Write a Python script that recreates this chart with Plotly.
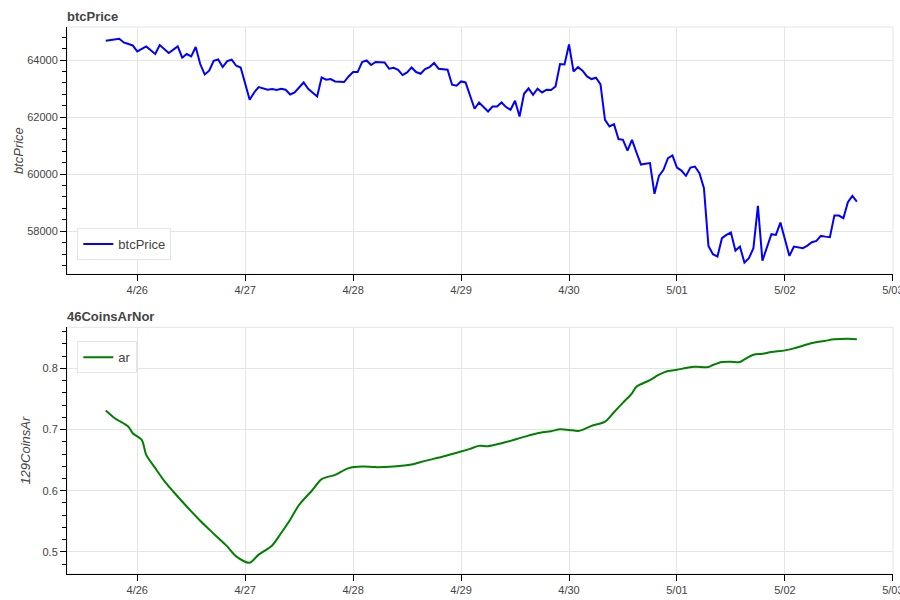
import pandas as pd
import plotly.graph_objects as go
from plotly.subplots import make_subplots

START = "2024-04-25 17:00"

btc_hours = [0, 1, 3, 4, 6, 7, 9, 11, 12, 14, 16, 17, 18, 19, 20, 21, 22, 23, 24, 25, 26, 27, 28, 29, 30,
             32, 33, 34, 35, 36, 37, 38, 39, 40, 41, 42, 44, 45, 47, 48, 49, 50, 51, 53, 54, 55, 56, 57, 58,
             59, 60, 62, 63, 64, 65, 66, 67, 68, 69, 70, 71, 72, 73, 74, 76, 77, 78, 79, 80, 81, 82, 83, 84,
             85, 86, 87, 88, 89, 90, 91, 92, 93, 94, 95, 96, 97, 98, 99, 100, 101, 102, 103, 104, 105, 106,
             107, 108, 109, 110, 111, 112, 113, 114, 115, 116, 117, 118, 119, 120, 121, 122, 123, 124, 125,
             126, 127, 128, 129, 130, 131, 132, 133, 134, 135, 136, 137, 138, 139, 140, 141, 142, 143, 144,
             145, 146, 147, 148, 149, 150, 151, 152, 153, 154, 155, 156, 157, 158, 159, 160, 161, 162, 163,
             164, 165, 166, 167]
btc_price = [64677, 64702, 64747, 64618, 64512, 64302, 64477, 64211, 64526, 64246, 64477, 64081, 64211,
             64126, 64456, 63860, 63495, 63625, 63975, 64021, 63754, 63965, 64011, 63800, 63740,
             62607, 62863, 63053, 63018, 62958, 62982, 62947, 62993, 62958, 62793, 62863, 63214, 62993,
             62723, 63389, 63309, 63333, 63249, 63228, 63425, 63579, 63579, 63930, 63986,
             63825, 63930, 63916, 63695, 63730, 63660, 63474, 63565, 63740, 63579, 63519, 63684, 63754,
             63895, 63695, 63660, 63133, 63098, 63249, 63214, 62723, 62291, 62512, 62351,
             62197, 62372, 62372, 62512, 62351, 62256, 62572, 62021, 62818, 63003, 62782, 62993, 62863,
             62958, 62947, 63074, 63860, 63846, 64547, 63600, 63754, 63625,
             63425, 63333, 63379, 63144, 61905, 61670, 61754, 61228, 61203, 60828, 61203, 60758, 60337,
             60361, 60386, 59309, 59940, 60151, 60561,
             60653, 60232, 60126, 59940, 60232, 60267, 60035, 59509, 57484, 57193, 57109, 57754, 57870,
             57951, 57319, 57460, 56898, 57053, 57404,
             58888, 56968, 57404, 57895, 57870, 58302, 57719, 57133, 57460, 57439, 57404, 57495, 57614,
             57660, 57835, 57810, 57789, 58547, 58547,
             58456, 59017, 59239, 59039]

ar_hours = [0, 2, 5, 6, 8, 9, 11, 13, 15, 18, 21, 24, 27, 29, 32, 34, 37, 39, 41, 43, 46, 48, 51, 54, 57,
            60, 64, 68, 71, 75, 79, 81, 83, 85, 88, 90, 92, 94, 96, 99, 101, 103, 105, 106, 108, 111, 113,
            115, 117, 118, 121, 123, 125, 127, 129, 131, 134, 135, 137, 139, 141, 142, 144, 146, 148, 151,
            153, 155, 157, 160, 162, 165, 167]
ar_values = [0.731, 0.7185, 0.7048, 0.694, 0.6831, 0.6586, 0.637, 0.6162, 0.5988, 0.5743, 0.551, 0.5298,
             0.5091, 0.4928, 0.4825, 0.4956, 0.5107, 0.531, 0.5527, 0.5771, 0.6016, 0.619, 0.626, 0.637,
             0.6396, 0.6386, 0.6396, 0.6428, 0.6488, 0.6559, 0.664, 0.6684, 0.6733, 0.6728, 0.6777, 0.6815,
             0.6859, 0.6901, 0.694, 0.6973, 0.7005, 0.6994, 0.6978, 0.6994, 0.7059, 0.7129, 0.7283, 0.7439,
             0.7592, 0.77, 0.7809, 0.7896, 0.7956, 0.7977, 0.8005, 0.8026, 0.8021, 0.8054, 0.8103, 0.8108,
             0.8103, 0.8147, 0.8222, 0.8238, 0.8266, 0.8293, 0.8326, 0.8368, 0.8413, 0.845, 0.8473, 0.8483,
             0.8473]

tick_days = ["2024-04-26", "2024-04-27", "2024-04-28", "2024-04-29", "2024-04-30",
             "2024-05-01", "2024-05-02", "2024-05-03"]
tick_text = ["4/26", "4/27", "4/28", "4/29", "4/30", "5/01", "5/02", "5/03"]

start = pd.Timestamp(START)
btc_x = [start + pd.Timedelta(hours=h) for h in btc_hours]
ar_x = [start + pd.Timedelta(hours=h) for h in ar_hours]

FONT = "Liberation Sans, Arial, sans-serif"
GRID = "#e5e5e5"
TXT = "#444444"

fig = make_subplots(rows=2, cols=1, shared_xaxes=False, vertical_spacing=0.097)

fig.add_trace(go.Scatter(x=btc_x, y=btc_price, mode="lines", name="btcPrice",
                         line=dict(color="#0000ff", width=2), legend="legend"), row=1, col=1)
fig.add_trace(go.Scatter(x=ar_x, y=ar_values, mode="lines", name="ar",
                         line=dict(color="#008000", width=2, shape="spline", smoothing=0.8),
                         legend="legend2"), row=2, col=1)

xrange = ["2024-04-25 08:23", "2024-05-03 00:02"]
common_x = dict(range=xrange, tickmode="array", tickvals=tick_days, ticktext=tick_text,
                showgrid=True, gridcolor=GRID, gridwidth=1, zeroline=False,
                showline=True, linecolor="black", linewidth=1, automargin=False,
                ticks="outside", ticklen=6, tickcolor="black", ticklabeloverflow="allow",
                tickfont=dict(family=FONT, size=11, color=TXT))
fig.update_xaxes(**common_x, row=1, col=1)
fig.update_xaxes(**common_x, row=2, col=1)

common_y = dict(showgrid=True, gridcolor=GRID, gridwidth=1, zeroline=False,
                showline=True, linecolor="black", linewidth=1, automargin=False,
                ticks="outside", ticklen=6, tickcolor="black",
                tickfont=dict(family=FONT, size=11, color=TXT))
fig.update_yaxes(**common_y, range=[56491, 65158], dtick=2000, tick0=0, tickformat="d",
                 minor=dict(ticks="outside", ticklen=4, tickcolor="black", dtick=400, showgrid=False),
                 title=dict(text="<i>btcPrice</i>", font=dict(family=FONT, size=13, color=TXT), standoff=0),
                 row=1, col=1)
fig.update_yaxes(**common_y, range=[0.464, 0.867], dtick=0.1, tick0=0, tickformat=".1f",
                 minor=dict(ticks="outside", ticklen=4, tickcolor="black", dtick=0.02, showgrid=False),
                 title=dict(text="<i>129CoinsAr</i>", font=dict(family=FONT, size=13, color=TXT), standoff=8),
                 row=2, col=1)

fig.update_layout(
    xaxis=dict(domain=[0.0, 1.0]),
    xaxis2=dict(domain=[0.0, 1.0]),
    yaxis=dict(domain=[0.548, 1.0]),
    yaxis2=dict(domain=[0.0, 0.451]),
)

# light outline around each plot frame
for xr, yr in [("x domain", "y domain"), ("x2 domain", "y2 domain")]:
    fig.add_shape(type="rect", xref=xr, yref=yr, x0=0, x1=1, y0=0, y1=1,
                  line=dict(color=GRID, width=1), layer="below")

fig.add_annotation(text="<b>btcPrice</b>", xref="paper", yref="paper", x=-0.0025, y=1.02,
                   xanchor="left", yanchor="middle", showarrow=False,
                   font=dict(family=FONT, size=13, color=TXT))
fig.add_annotation(text="<b>46CoinsArNor</b>", xref="paper", yref="paper", x=-0.0025, y=0.4715,
                   xanchor="left", yanchor="middle", showarrow=False,
                   font=dict(family=FONT, size=13, color=TXT))

legend_style = dict(bgcolor="rgba(255,255,255,0.95)", bordercolor=GRID, borderwidth=1,
                    font=dict(family=FONT, size=13, color=TXT), xanchor="left", itemwidth=30)
fig.update_layout(
    width=900, height=600,
    margin=dict(l=67, r=7, t=27, b=26, autoexpand=False),
    plot_bgcolor="white", paper_bgcolor="white",
    showlegend=True,
    legend=dict(x=0.0125, y=0.603, yanchor="middle", **legend_style),
    legend2=dict(x=0.0125, y=0.396, yanchor="middle", **legend_style),
)

fig.write_html("out.html", config={"displayModeBar": False},
               post_script="document.body.style.margin='0px';")
